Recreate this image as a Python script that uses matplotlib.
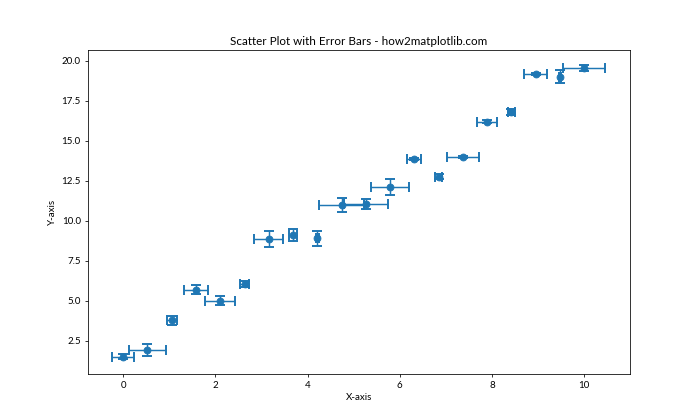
# scatter_errorbars.py
# Scatter plot with x and y error bars.

import numpy as np
import matplotlib
matplotlib.use("Agg")
import matplotlib.pyplot as plt

plt.rcParams['font.family'] = ['Lato', 'DejaVu Sans']

# values
x = [0.0, 0.526, 1.053, 1.579, 2.105, 2.632, 3.158, 3.684, 4.211, 4.737,
     5.263, 5.789, 6.316, 6.842, 7.368, 7.895, 8.421, 8.947, 9.474, 10.0]
y = [1.50, 1.92, 3.77, 5.69, 5.00, 6.04, 8.88, 9.12, 8.92, 11.00,
     11.06, 12.12, 13.87, 12.77, 13.98, 16.19, 16.81, 19.19, 19.02, 19.56]
x_err = [0.24, 0.40, 0.11, 0.26, 0.32, 0.09, 0.31, 0.09, 0.03, 0.48,
         0.48, 0.42, 0.15, 0.07, 0.35, 0.22, 0.07, 0.25, 0.03, 0.46]
y_err = [0.15, 0.35, 0.26, 0.28, 0.29, 0.20, 0.51, 0.37, 0.47, 0.44,
         0.31, 0.48, 0.05, 0.15, 0.05, 0.10, 0.20, 0.08, 0.40, 0.18]

fig = plt.figure(figsize=(10, 6), dpi=70)
plt.errorbar(x, y, xerr=x_err, yerr=y_err, fmt='o', markersize=7,
             capsize=5, capthick=2, elinewidth=1.5)
plt.title('Scatter Plot with Error Bars - how2matplotlib.com')
plt.xlabel('X-axis')
plt.ylabel('Y-axis')
plt.savefig('out.png', dpi=70)
